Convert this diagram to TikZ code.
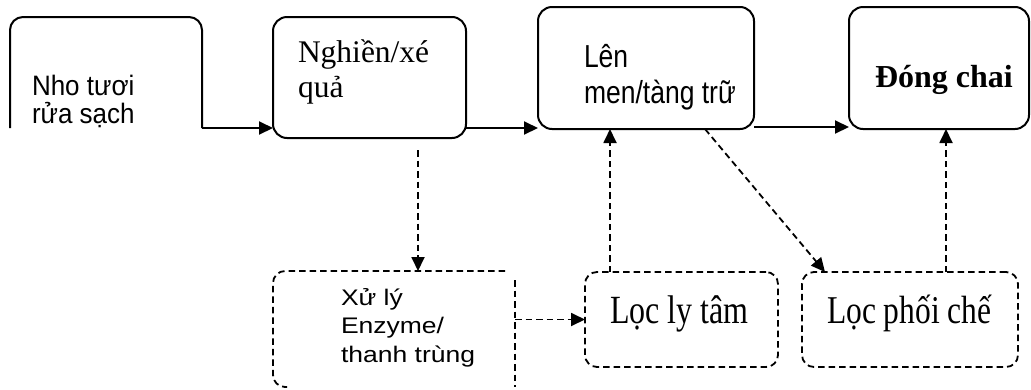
\documentclass[tikz,border=0pt]{standalone}
\usepackage{fontspec}
\usepackage{graphicx}
\setmainfont{Liberation Serif}
\newfontfamily\sansvi{Liberation Sans}
\usetikzlibrary{arrows.meta}
\begin{document}
\begin{tikzpicture}[x=1pt,y=-1pt,
  stage/.style={draw, line width=2pt, rounded corners=14pt, inner sep=0pt, outer sep=0pt},
  frame/.style={inner sep=0pt, outer sep=0pt},
  optbox/.style={draw, line width=1.8pt, dash pattern=on 6.5pt off 4pt, rounded corners=12pt, inner sep=0pt, outer sep=0pt},
  flow/.style={line width=2pt, -{Triangle[length=14pt,width=13pt]}},
  dflow/.style={line width=1.8pt, dash pattern=on 6.5pt off 4pt, -{Triangle[length=14pt,width=13pt]}},
  lbl/.style={anchor=base west, inner sep=0pt, outer sep=0pt},
]
\useasboundingbox (0,0) rectangle (1031,389);

% main line of stages
\node[frame, minimum width=192pt, minimum height=111pt] (b1) at (106,72.5) {};
\draw[line width=2pt, rounded corners=13pt] (b1.south west) -- (b1.north west) -- (b1.north east) -- (b1.south east);
\node[stage, minimum width=193pt, minimum height=121pt] (b2) at (369.5,77.5) {};
\node[stage, minimum width=216pt, minimum height=122pt] (b3) at (646,68) {};
\node[stage, minimum width=180pt, minimum height=122pt] (b4) at (939,68) {};

% side treatments
\node[frame, minimum width=242pt, minimum height=116pt] (b5) at (394,329) {};
\draw[line width=1.8pt, dash pattern=on 6.5pt off 4pt, rounded corners=12pt]
  ([xshift=-10pt]b5.north east) -- (b5.north west) -- (b5.south west) -- ([xshift=14pt]b5.south west);
\draw[line width=1.1pt, dash pattern=on 6.5pt off 4pt] ([yshift=-9pt]b5.north east) -- (b5.south east);
\node[optbox, minimum width=193pt, minimum height=95pt] (b6) at (681.5,319.5) {};
\node[optbox, minimum width=216pt, minimum height=95pt] (b7) at (910,319.5) {};

% labels
\node[lbl] (t1) at (32,95) {\sansvi\fontsize{26}{26}\selectfont\scalebox{1}[1.08]{\vtop{\hbox{Nho tươi}\hbox{rửa sạch}}}};
\node[lbl] (t2) at (298,62) {\fontsize{31.5}{35}\selectfont\vtop{\hbox{Nghiền/xé}\hbox{quả}}};
\node[lbl] (t3) at (584,67) {\sansvi\fontsize{26.5}{30.5}\selectfont\scalebox{1}[1.2]{\vtop{\hbox{Lên}\hbox{men/tàng trữ}}}};
\node[lbl] (t4) at (875,87) {\bfseries\fontsize{32}{36}\selectfont Đóng chai};
\node[lbl] (t5) at (341,305) {\sansvi\fontsize{26.5}{34}\selectfont\scalebox{1}[0.85]{\vtop{\hbox{Xử lý}\hbox{Enzyme/}\hbox{thanh trùng}}}};
\node[lbl] (t6) at (610,323) {\fontsize{32}{36}\selectfont\scalebox{1}[1.25]{Lọc ly tâm}};
\node[lbl] (t7) at (827,323) {\fontsize{31.5}{36}\selectfont\scalebox{1}[1.25]{Lọc phối chế}};

% solid flow
\coordinate (row) at (0,128);
\draw[flow] (b1.south east) -- (b2.west |- row);
\draw[flow] (b2.east |- row) -- (b3.west |- row);
\draw[flow] ([yshift=1pt]b3.east |- row) -- ([yshift=1pt]b4.west |- row);

% dashed branches
\draw[dflow, shorten <=12pt] ([xshift=48.5pt]b2.south) -- ([xshift=48.5pt]b2.south |- b5.north);
\draw[dflow] (b5.east |- b6.west) -- (b6.west);
\draw[dflow] ([xshift=25pt]b6.north west) -- ([xshift=25pt]b6.north west |- b3.south);
\draw[dflow] ([xshift=36pt]b7.north) -- ([xshift=36pt]b7.north |- b4.south);
\draw[dflow] ([xshift=59pt]b3.south) -- ([xshift=-85pt]b7.north);
\end{tikzpicture}
\end{document}
